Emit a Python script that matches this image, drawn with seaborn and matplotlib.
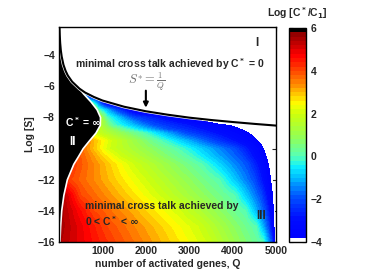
import numpy as np
import matplotlib
matplotlib.use('Agg')
import matplotlib.pyplot as plt
from matplotlib.colors import LinearSegmentedColormap, ListedColormap
import seaborn as sns

sns.set_style('white')
plt.rcParams['font.family'] = ['Liberation Sans', 'DejaVu Sans']
plt.rcParams['font.weight'] = 'bold'
plt.rcParams['axes.labelweight'] = 'bold'

# rows of log S, and Q where Log[C*/C1] crosses each level
S_rows = [-16, -15, -14, -13, -12, -11, -10.5, -10, -9.5, -9, -8.75, -8.5, -8.25, -8,
          -7.5, -7, -6.5, -6]
Q_at_6 = [-500, -300, -200, -100, -500, -300, -200, -100, 0, 400, 550, 650, 750, 800,
          700, 550, 530, 400]
Q_at_4 = [1300, 1100, 800, 500, 260, 400, 400, 400, 400, 600, 680, 750, 820, 850,
          750, 600, 540, 402]
Q_at_2 = [3400, 3200, 2800, 2300, 2000, 1700, 1400, 1150, 1200, 800, 820, 850, 900, 900,
          800, 650, 550, 404]
Q_at_0 = [4700, 4550, 4300, 4050, 3700, 3300, 3000, 2750, 2350, 1950, 1550, 1250, 1170,
          1100, 900, 700, 560, 406]
Q_at_m2 = [4900, 4820, 4750, 4650, 4500, 4350, 4200, 4050, 3500, 2900, 2500, 2200, 1950,
           1700, 1300, 920, 600, 408]
Q_at_m4 = [4975, 4968, 4960, 4945, 4915, 4875, 4830, 4780, 4700, 4530, 4380, 4120, 3500,
           3050, 1800, 1090, 660, 410]
level_vals = [6, 4, 2, 0, -2, -4, -8]

# S* = 1/Q curve
Q_star = [9, 15, 25, 40, 60, 100, 150, 200, 300, 470, 600, 800, 1000, 1500, 2000,
          2500, 3000, 3500, 4000, 4500, 5000]
S_star = [-2.2, -2.71, -3.22, -3.69, -4.09, -4.61, -5.01, -5.30, -5.70, -6.15, -6.40,
          -6.68, -6.91, -7.31, -7.60, -7.82, -8.01, -8.16, -8.29, -8.41, -8.52]

# boundary of region II (C* = infinity)
S_bnd = [-16, -15, -14, -13, -12, -11, -10.5, -10, -9.5, -9, -8.5, -8, -7.5, -7, -6.5, -6.15]
Q_bnd = [20, 35, 60, 110, 190, 340, 450, 555, 700, 850, 950, 955, 875, 735, 570, 470]

# colour map of the bar
cmap_vals = [-4, -3, -2, -1, -0.5, 0, 1, 2, 2.5, 3.3, 4, 4.8, 6]
cmap_cols = [(0, 0, 1), (0, 0.05, 1), (0, 0.3, 1), (0, 0.75, 1), (0.05, 0.95, 1),
             (0.35, 1, 0.7), (0.6, 1, 0.3), (0.8, 1, 0.05), (1, 1, 0), (1, 0.6, 0),
             (1, 0.3, 0), (1, 0, 0), (0.5, 0, 0)]

levels = np.linspace(-4, 6, 51)
base = LinearSegmentedColormap.from_list(
    'cc', [((v + 4) / 10, c) for v, c in zip(cmap_vals, cmap_cols)])
cols = base(np.linspace(0, 1, 50))
cols[0] = (1, 1, 1, 1)
cols[-1] = (0, 0, 0, 1)
cmap = ListedColormap(cols)

# build field on a grid, row by row
Qgrid = np.linspace(0, 5000, 1001)
Z = []
for i in range(len(S_rows)):
    xp = [Q_at_6[i], Q_at_4[i], Q_at_2[i], Q_at_0[i], Q_at_m2[i], Q_at_m4[i], 5000]
    Z.append(np.interp(Qgrid, xp, level_vals))
Z = np.array(Z)

fig = plt.figure(figsize=(3.74, 2.77), dpi=100)
ax = fig.add_axes([0.158, 0.126, 0.580, 0.776])
cax = fig.add_axes([0.773, 0.126, 0.045, 0.773])

cs = ax.contourf(Qgrid, S_rows, Z, levels=levels, cmap=cmap, zorder=1)

# region I (white above S*)
ax.fill_between(Q_star, S_star, -2.0, color='white', lw=0, zorder=2)
# region II (black)
poly_Q = [0] + Q_bnd + Q_star[:10][::-1] + [0]
poly_S = [-16] + S_bnd + S_star[:10][::-1] + [-2.2]
ax.fill(poly_Q, poly_S, color='black', lw=0, zorder=3)
ax.plot(Q_bnd, S_bnd, color='white', lw=1.2, zorder=4)
ax.plot(Q_star, S_star, color='white', lw=2.4, zorder=4)
ax.plot(Q_star, S_star, color='black', lw=1.5, zorder=5)

ax.set_xlim(0, 5000)
ax.set_ylim(-16, -2.2)
ax.set_xticks([1000, 2000, 3000, 4000, 5000])
ax.set_yticks([-16, -14, -12, -10, -8, -6, -4])
ax.tick_params(direction='in', length=3, width=0.8, labelsize=7.5, top=True, right=True,
               pad=3)
for s in ax.spines.values():
    s.set_color('black')
    s.set_linewidth(1.0)
    s.set_zorder(6)
ax.set_xlabel('number of activated genes, Q', fontsize=7.5, labelpad=2)
ax.set_ylabel('Log [S]', fontsize=7.5, labelpad=2)

tk = dict(fontsize=7.5, fontweight='bold', zorder=7)
ax.text(370, -4.55, 'minimal cross talk achieved by C$^*$ = 0', va='center', **tk)
ax.text(4560, -3.2, 'I', ha='center', va='center', fontsize=8.5, fontweight='bold')
ax.text(2030, -5.7, r'$S^{*} = \frac{1}{Q}$', ha='center', va='center', fontsize=9,
        color='#707070', math_fontfamily='cm', zorder=7)
ax.annotate('', xy=(2000, -7.55), xytext=(2000, -6.1),
            arrowprops=dict(arrowstyle='-|>', color='black', lw=1.5, mutation_scale=7),
            zorder=7)
ax.text(140, -8.3, r'C$^*$ = $\infty$', color='white', va='center', **tk)
ax.text(240, -9.6, 'II', color='white', va='center', fontsize=8.5, fontweight='bold', zorder=7)
ax.text(600, -13.7, 'minimal cross talk achieved by', va='center', **tk)
ax.text(600, -14.65, r'0 < C$^*$ < $\infty$', va='center', **tk)
ax.text(4650, -14.3, 'III', ha='center', va='center', fontsize=8.5, fontweight='bold')

cb = fig.colorbar(cs, cax=cax)
cb.set_ticks([-4, -2, 0, 2, 4, 6])
cb.ax.tick_params(direction='in', length=3, width=0.8, labelsize=7.5, left=True, right=True)
cb.outline.set_linewidth(1.0)
cb.outline.set_edgecolor('black')
cax.set_title('Log [C$^*$/C$_1$]', fontsize=7.5, fontweight='bold', pad=8)

fig.savefig('out.png', dpi=100)
